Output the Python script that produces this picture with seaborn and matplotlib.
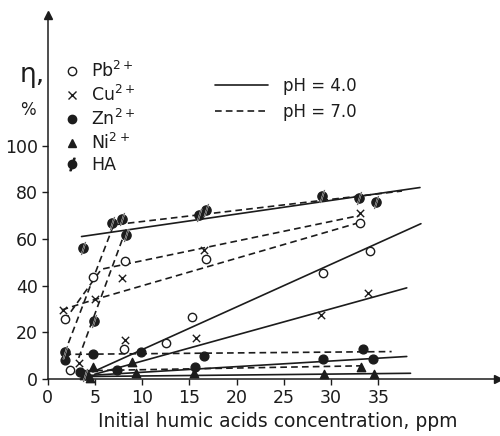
import pandas as pd
import seaborn as sns
import matplotlib.pyplot as plt
from matplotlib.lines import Line2D

pb_x = [1.8, 2.4, 4.8, 8.2, 8.1, 12.5, 15.3, 16.8, 29.1, 33.1, 34.1]
pb_y = [25.5, 3.6, 43.6, 50.6, 12.9, 15.3, 26.7, 51.2, 45.4, 67.0, 54.6]

cu_x = [1.6, 5.0, 7.9, 16.6, 33.1, 8.2, 15.7, 28.9, 33.9, 3.3]
cu_y = [29.6, 34.2, 43.2, 55.4, 71.0, 16.7, 17.5, 27.5, 36.8, 7.0]

zn_x = [1.8, 4.8, 9.9, 16.6, 15.6, 29.1, 33.4, 34.4, 7.3, 3.4]
zn_y = [8.0, 10.5, 11.5, 9.8, 5.3, 8.5, 12.7, 8.5, 4.0, 3.0]

ni_x = [3.9, 4.8, 8.9, 9.4, 15.5, 29.2, 33.2, 34.5, 4.5]
ni_y = [1.7, 5.3, 7.4, 2.4, 2.7, 1.9, 5.3, 2.1, 0.5]

ha_x = [1.9, 3.8, 4.9, 6.8, 7.9, 8.3, 16.0, 16.8, 29.0, 33.0, 34.8, 4.0]
ha_y = [11.5, 56.0, 24.6, 66.8, 68.5, 61.8, 70.4, 72.5, 78.2, 77.3, 75.8, 1.5]

# fitted lines as drawn in the figure
pb_ph4_x, pb_ph4_y = [4.8, 39.5], [3.0, 66.5]
pb_ph7_x, pb_ph7_y = [1.8, 5.7, 33.0], [25.0, 47.0, 70.0]
cu_ph4_x, cu_ph4_y = [5.0, 38.0], [2.0, 39.0]
cu_ph7_x, cu_ph7_y = [1.5, 3.4, 5.0, 33.0], [29.5, 32.0, 34.0, 67.0]
zn_ph4_x, zn_ph4_y = [4.5, 38.0], [1.5, 9.6]
zn_ph7_x, zn_ph7_y = [1.8, 36.4], [10.5, 11.7]
ni_ph4_x, ni_ph4_y = [4.0, 38.4], [1.0, 2.4]
ni_ph7_x, ni_ph7_y = [4.0, 33.2], [3.5, 5.6]
ha_ph4_x, ha_ph4_y = [3.6, 39.4], [61.0, 82.0]
ha_ph7_x, ha_ph7_y = [1.8, 7.0, 37.5], [11.0, 66.0, 80.5]
ha_ph7b_x, ha_ph7b_y = [3.3, 8.3], [9.0, 64.0]

ions = ["Pb", "Cu", "Zn", "Ni", "HA"]
ion_labels = [r"Pb$^{2+}$", r"Cu$^{2+}$", r"Zn$^{2+}$", r"Ni$^{2+}$", "HA"]

pts = pd.concat([
    pd.DataFrame({"ion": "Pb", "x": pb_x, "y": pb_y}),
    pd.DataFrame({"ion": "Cu", "x": cu_x, "y": cu_y}),
    pd.DataFrame({"ion": "Zn", "x": zn_x, "y": zn_y}),
    pd.DataFrame({"ion": "Ni", "x": ni_x, "y": ni_y}),
    pd.DataFrame({"ion": "HA", "x": ha_x, "y": ha_y}),
])

line_defs = [
    ("pb4", "4.0", pb_ph4_x, pb_ph4_y), ("pb7", "7.0", pb_ph7_x, pb_ph7_y),
    ("cu4", "4.0", cu_ph4_x, cu_ph4_y), ("cu7", "7.0", cu_ph7_x, cu_ph7_y),
    ("zn4", "4.0", zn_ph4_x, zn_ph4_y), ("zn7", "7.0", zn_ph7_x, zn_ph7_y),
    ("ni4", "4.0", ni_ph4_x, ni_ph4_y), ("ni7", "7.0", ni_ph7_x, ni_ph7_y),
    ("ha4", "4.0", ha_ph4_x, ha_ph4_y), ("ha7", "7.0", ha_ph7_x, ha_ph7_y),
    ("ha7b", "7.0", ha_ph7b_x, ha_ph7b_y),
]
lines = pd.concat([pd.DataFrame({"line": n, "pH": p, "x": xs, "y": ys})
                   for n, p, xs, ys in line_defs])

ink = "#1c1c1c"
sns.set_theme(style="white")
plt.rcParams["font.family"] = ["DejaVu Sans"]

fig = plt.figure(figsize=(5, 4.36), dpi=100)
ax = fig.add_axes([0.095, 0.131, 0.9, 0.835])

dash7 = (4, 2.5)
sns.lineplot(data=lines, x="x", y="y", units="line", style="pH",
             dashes={"4.0": "", "7.0": dash7}, estimator=None, sort=False,
             color=ink, linewidth=1.2, legend=False, ax=ax)

markers = {"Pb": "o", "Cu": "x", "Zn": "o", "Ni": "^", "HA": "o"}
face = {"Pb": "white", "Cu": ink, "Zn": ink, "Ni": ink, "HA": ink}
size = {"Pb": 36, "Cu": 28, "Zn": 40, "Ni": 36, "HA": 44}
for ion in ions:
    d = pts[pts["ion"] == ion]
    sns.scatterplot(data=d, x="x", y="y", marker=markers[ion], s=size[ion],
                    color=face[ion], edgecolor=ink, linewidth=1.0,
                    zorder=4, clip_on=False, ax=ax, legend=False)
    if ion == "HA":
        sns.scatterplot(data=d, x="x", y="y", marker="$/$", s=90, color=ink,
                        linewidth=0.3, zorder=5, clip_on=False, ax=ax, legend=False)

ax.set_xlim(0, 47.6)
ax.set_ylim(0, 156)
ax.set_xticks([0, 5, 10, 15, 20, 25, 30, 35])
ax.set_yticks([0, 20, 40, 60, 80, 100])
ax.tick_params(axis="both", direction="out", length=4, width=1.0, color=ink,
               labelsize=12.5, labelcolor=ink, pad=3, left=True, bottom=True)
for s in ["top", "right"]:
    ax.spines[s].set_visible(False)
for s in ["left", "bottom"]:
    ax.spines[s].set_color(ink)
    ax.spines[s].set_linewidth(1.1)
ax.plot(1, 0, ">", color=ink, ms=6, transform=ax.get_yaxis_transform(), clip_on=False)
ax.plot(0, 1, "^", color=ink, ms=6, transform=ax.get_xaxis_transform(), clip_on=False)

ax.set_xlabel("Initial humic acids concentration, ppm", fontsize=13.5, color=ink,
              labelpad=4, x=0.511)
ax.set_ylabel("")
fig.text(0.04, 0.828, "η,", fontsize=19, color=ink, ha="left", va="center")
fig.text(0.04, 0.748, "%", fontsize=12, color=ink, ha="left", va="center")

# legends
ion_handles = []
for ion in ions:
    h = Line2D([], [], linestyle="none", marker=markers[ion], markersize=6,
               markerfacecolor=face[ion], markeredgecolor=ink, color=ink)
    if ion == "HA":
        h = (h, Line2D([], [], linestyle="none", marker="$/$", markersize=9, color=ink))
    ion_handles.append(h)
leg1 = ax.legend(ion_handles, ion_labels, loc="upper left", bbox_to_anchor=(0.02, 0.893),
                 frameon=False, fontsize=12.5, handletextpad=0.6, labelspacing=0.22,
                 handlelength=1.0, borderaxespad=0)
for t in leg1.get_texts():
    t.set_color(ink)
ax.add_artist(leg1)

ph_handles = [Line2D([], [], color=ink, lw=1.2),
              Line2D([], [], color=ink, lw=1.2, dashes=dash7)]
leg2 = ax.legend(ph_handles, ["pH = 4.0", "pH = 7.0"], loc="upper left",
                 bbox_to_anchor=(0.357, 0.847), frameon=False, fontsize=12,
                 handlelength=3.2, handletextpad=0.9, labelspacing=0.45, borderaxespad=0)
for t in leg2.get_texts():
    t.set_color(ink)

fig.savefig("out.png", dpi=100)
